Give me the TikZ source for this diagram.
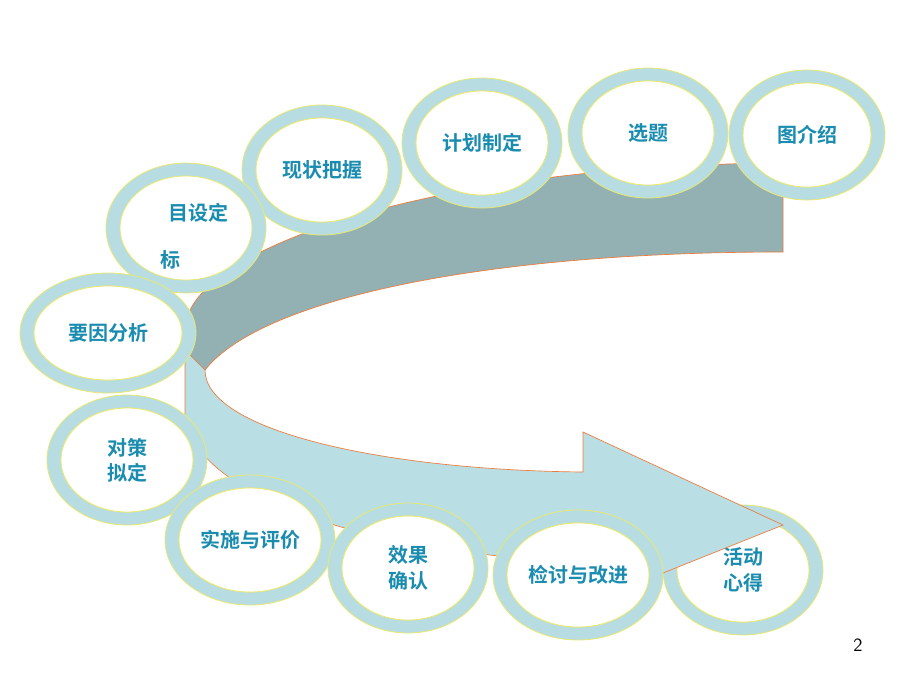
\documentclass[tikz,border=0pt]{standalone}
\usepackage{fontspec}
\newfontfamily\cjk{Noto Sans CJK SC}[BoldFont={* Bold}]
\usetikzlibrary{positioning}
\definecolor{ringblue}{HTML}{B7DDE3}
\definecolor{ringedge}{HTML}{E8E870}
\definecolor{txtblue}{HTML}{1A8CB0}
\definecolor{darkband}{HTML}{93B1B2}
\definecolor{lightband}{HTML}{B9DFE4}
\definecolor{bandedge}{HTML}{F07A3A}
\tikzset{
  ring/.style={draw=ringedge, fill=ringblue, line width=0.6pt},
  hole/.style={draw=ringedge, fill=white, line width=0.6pt},
  label/.style={font=\cjk\bfseries\fontsize{15}{19}\selectfont, text=txtblue, align=center},
  band/.style={draw=bandedge, line width=0.5pt}
}
% one ring: centre, outer radii, label
\newcommand{\stepring}[5]{%
  \fill[ring] (#1,#2) ellipse [x radius=#3, y radius=#4];
  \fill[hole] (#1,#2) ellipse [x radius=#3-14, y radius=#4-13];
  \draw[hole] (#1,#2) ellipse [x radius=#3-14, y radius=#4-13];
  \node[label] at (#1,#2) {#5};
}
\begin{document}
\begin{tikzpicture}[x=0.75pt, y=-0.75pt]
  \useasboundingbox (0,0) rectangle (920,690);
  % last step under the arrow tip
  \stepring{743}{570}{80}{65}{活动\\心得}
  % curved arrow
  \filldraw[band, fill=lightband] (185,330) -- (185,420)
    .. controls (205,510) and (420,560) .. (583,560) -- (583,605) -- (783,525)
    -- (583,432) -- (583,472)
    .. controls (380,470) and (205,430) .. (205,370) -- cycle;
  \filldraw[band, fill=darkband] (783,163) -- (783,252)
    .. controls (480,252) and (260,300) .. (205,370)
    -- (185,350) -- (185,330)
    .. controls (185,250) and (430,165) .. (783,163) -- cycle;
  % steps
  \stepring{807}{135}{78}{65}{图介绍}
  \stepring{648}{133}{80}{65}{选题}
  \stepring{482}{143}{80}{65}{计划制定}
  \stepring{322}{170}{80}{65}{现状把握}
  \fill[ring] (186,228) ellipse [x radius=80, y radius=65];
  \draw[hole] (186,228) ellipse [x radius=66, y radius=52];
  \node[label] (goal) at (198,213) {目设定};
  \node[label] (goaltail) at (170,260) {标};
  \stepring{108}{333}{88}{60}{要因分析}
  \stepring{127}{460}{80}{65}{对策\\拟定}
  \stepring{250}{540}{85}{65}{实施与评价}
  \stepring{408}{568}{80}{65}{效果\\确认}
  \stepring{578}{575}{85}{65}{检讨与改进}
  \node[font=\sffamily\fontsize{14}{16}\selectfont] (page) at (858,645) {2};
\end{tikzpicture}
\end{document}
